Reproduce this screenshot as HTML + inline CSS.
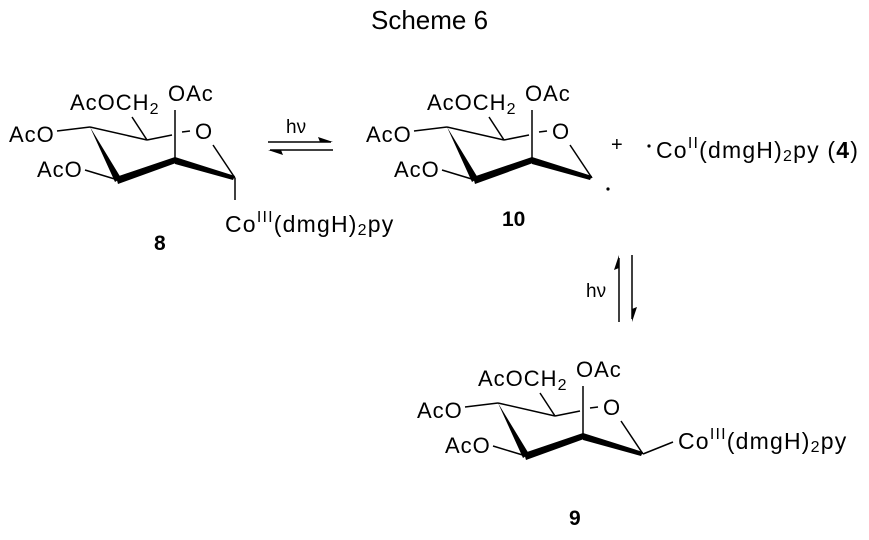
<!DOCTYPE html>
<html><head><meta charset="utf-8"><style>
html,body{margin:0;padding:0;background:#fff;}
svg{display:block;}
text{font-family:"Liberation Sans",Arial,sans-serif;fill:#000;}
.l{letter-spacing:1px;}
.co{letter-spacing:1.2px;}
</style></head><body>
<svg width="869" height="540" viewBox="0 0 869 540" xmlns="http://www.w3.org/2000/svg">
<defs>
<g id="ring">
  <line x1="57" y1="131" x2="90" y2="127" stroke="#000" stroke-width="1.5"/>
  <line x1="90" y1="127" x2="147" y2="140" stroke="#000" stroke-width="1.5"/>
  <line x1="147" y1="140" x2="172" y2="135" stroke="#000" stroke-width="1.5"/>
  <line x1="182" y1="132" x2="190" y2="131" stroke="#000" stroke-width="1.5"/>
  <line x1="132" y1="117" x2="147" y2="140" stroke="#000" stroke-width="1.5"/>
  <line x1="175" y1="110" x2="175" y2="160" stroke="#000" stroke-width="1.5"/>
  <polygon points="90,127 121,178 115,182" fill="#000"/>
  <polygon points="116,177 175,157 176,163 118,184" fill="#000"/>
  <polygon points="175,157 235,176 233,180 175,164" fill="#000"/>
  <line x1="85" y1="170" x2="118" y2="180" stroke="#000" stroke-width="1.5"/>
  <line x1="213" y1="145" x2="235" y2="178" stroke="#000" stroke-width="1.5"/>
  <text x="9" y="142" font-size="22" class="l">AcO</text>
  <text x="37" y="177" font-size="22" class="l">AcO</text>
  <text x="70" y="110" font-size="22" class="l">AcOCH<tspan font-size="16" dy="4">2</tspan></text>
  <text x="168" y="101" font-size="22" class="l">OAc</text>
  <text x="195" y="139" font-size="22">O</text>
</g>
</defs>
<text x="371" y="29" font-size="26">Scheme 6</text>

<!-- 8 -->
<use href="#ring"/>
<line x1="235" y1="178" x2="235" y2="200" stroke="#000" stroke-width="1.5"/>
<text x="225" y="232" font-size="23" class="co">Co<tspan font-size="16" dy="-10">III</tspan><tspan dy="10">(dmgH)</tspan><tspan font-size="16" dy="3">2</tspan><tspan dy="-3">py</tspan></text>
<text x="154" y="250" font-size="21" font-weight="bold">8</text>

<!-- equilibrium arrows horizontal -->
<text x="286" y="133" font-size="19">hν</text>
<line x1="268" y1="142" x2="331" y2="142" stroke="#000" stroke-width="1.5"/>
<polygon points="333,142 318,137 320,142" fill="#000"/>
<line x1="270" y1="150" x2="333" y2="150" stroke="#000" stroke-width="1.5"/>
<polygon points="268,150 283,155 281,150" fill="#000"/>

<!-- 10 -->
<g transform="translate(357,0)"><use href="#ring"/></g>
<circle cx="608" cy="189" r="1.6" fill="#000"/>
<text x="611" y="151" font-size="20">+</text>
<circle cx="649" cy="146" r="1.6" fill="#000"/>
<text x="656" y="158" font-size="23" class="co">Co<tspan font-size="16" dy="-10">II</tspan><tspan dy="10">(dmgH)</tspan><tspan font-size="16" dy="3">2</tspan><tspan dy="-3">py (</tspan><tspan font-weight="bold">4</tspan>)</text>
<text x="502" y="226" font-size="21" font-weight="bold">10</text>

<!-- vertical arrows -->
<text x="586" y="297" font-size="19">hν</text>
<line x1="619" y1="258" x2="619" y2="322" stroke="#000" stroke-width="1.5"/>
<polygon points="619,255 614,270 619,268" fill="#000"/>
<line x1="632" y1="255" x2="632" y2="319" stroke="#000" stroke-width="1.5"/>
<polygon points="632,322 637,307 632,309" fill="#000"/>

<!-- 9 -->
<g transform="translate(408,276)"><use href="#ring"/></g>
<line x1="643" y1="454" x2="673" y2="442" stroke="#000" stroke-width="1.5"/>
<text x="678" y="449" font-size="23" class="co">Co<tspan font-size="16" dy="-10">III</tspan><tspan dy="10">(dmgH)</tspan><tspan font-size="16" dy="3">2</tspan><tspan dy="-3">py</tspan></text>
<text x="569" y="525" font-size="21" font-weight="bold">9</text>
</svg>
</body></html>
